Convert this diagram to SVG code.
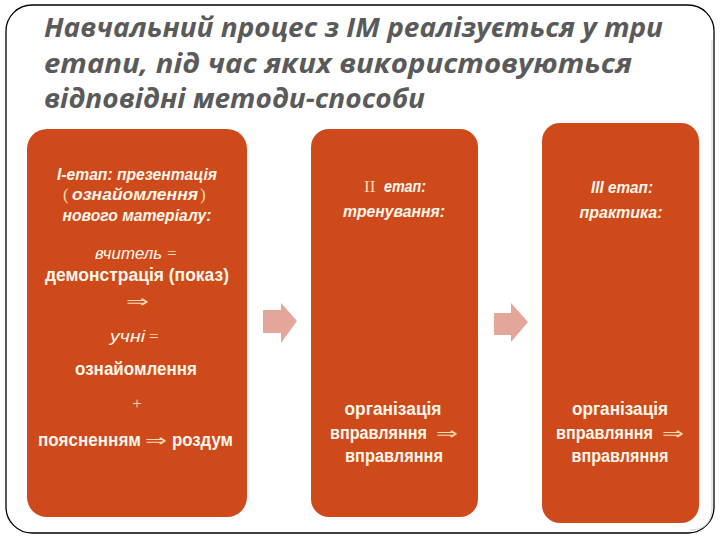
<svg xmlns="http://www.w3.org/2000/svg" width="720" height="540" viewBox="0 0 720 540">
<defs>
<style>
.frame{fill:#fff;stroke:#000;stroke-width:1.3}
.box{fill:#CF4A1B}
.title{font-family:"Open Sans","Liberation Sans",sans-serif;font-style:italic;font-weight:700;font-size:27px;fill:#5a5a5a}
.t{font-family:"Liberation Sans",Arial,sans-serif;fill:#FFF6EA;font-size:17px}
.c{text-anchor:middle}
.hi{font-style:italic;font-weight:bold}
.it{font-style:italic}
.b{font-weight:bold;font-size:18px}
.sym{font-family:"Liberation Serif","DejaVu Serif",serif;fill:#F7D8AE}
.arr{font-family:"DejaVu Sans",sans-serif;fill:#F7D8AE;font-size:17px}
.arrow{fill:#E3A699}
</style>
</defs>
<rect class="frame" x="6" y="5" width="708" height="528" rx="26"/>
<path d="M712 40 V508 Q712 530 690 530" fill="none" stroke="#cfcfcf" stroke-width="1"/>
<g id="title">
<text class="title" x="44" y="37" textLength="619" lengthAdjust="spacingAndGlyphs">Навчальний процес з ІМ реалізується у три</text>
<text class="title" x="44" y="73" textLength="588" lengthAdjust="spacingAndGlyphs">етапи, під час яких використовуються</text>
<text class="title" x="44" y="108" textLength="381" lengthAdjust="spacingAndGlyphs">відповідні методи-способи</text>
</g>
<g id="connectors">
<path class="arrow" d="M263 310 H281 V303 L297 321 L281 343 V333 H263 Z"/>
<path class="arrow" d="M494 313 H511 V303 L528 322 L511 342 V335 H494 Z"/>
</g>
<g id="stage1">
<rect class="box" x="27" y="129" width="220" height="388" rx="20"/>
<text class="t hi c" x="137" y="180" textLength="160" lengthAdjust="spacingAndGlyphs">І-етап: презентація</text>
<text class="t sym" x="63" y="200" font-size="17">(</text>
<text class="t hi" x="72" y="200" textLength="126" lengthAdjust="spacingAndGlyphs">ознайомлення</text>
<text class="t sym" x="200" y="200" font-size="17">)</text>
<text class="t hi c" x="137" y="221" textLength="149" lengthAdjust="spacingAndGlyphs">нового матеріалу:</text>
<text class="t it" x="95" y="259" font-size="16" textLength="67" lengthAdjust="spacingAndGlyphs">вчитель</text>
<text class="t sym" x="167" y="259" font-size="17">=</text>
<text class="t b c" x="137" y="281" textLength="184" lengthAdjust="spacingAndGlyphs">демонстрація (показ)</text>
<text class="t arr" x="126" y="307" textLength="23" lengthAdjust="spacingAndGlyphs">⇒</text>
<text class="t it" x="110" y="342" textLength="35" lengthAdjust="spacingAndGlyphs">учні</text>
<text class="t sym" x="149" y="342" font-size="17">=</text>
<text class="t b c" x="136" y="375" textLength="122" lengthAdjust="spacingAndGlyphs">ознайомлення</text>
<text class="t sym c" x="137" y="409" font-size="20">+</text>
<text class="t b" x="38" y="446" textLength="103" lengthAdjust="spacingAndGlyphs">поясненням</text>
<text class="t arr" x="145" y="446" textLength="22" lengthAdjust="spacingAndGlyphs">⇒</text>
<text class="t b" x="172" y="446" textLength="61" lengthAdjust="spacingAndGlyphs">роздум</text>
</g>
<g id="stage2">
<rect class="box" x="311" y="129" width="167" height="388" rx="18"/>
<text class="t sym" x="364" y="192" font-size="18">ІІ</text>
<text class="t hi" x="384" y="192" textLength="42" lengthAdjust="spacingAndGlyphs">етап:</text>
<text class="t hi c" x="394" y="217" textLength="102" lengthAdjust="spacingAndGlyphs">тренування:</text>
<text class="t b c" x="393" y="415" textLength="97" lengthAdjust="spacingAndGlyphs">організація</text>
<text class="t b" x="330" y="439" textLength="97" lengthAdjust="spacingAndGlyphs">вправляння</text>
<text class="t arr" x="436" y="439" textLength="22" lengthAdjust="spacingAndGlyphs">⇒</text>
<text class="t b c" x="394" y="462" textLength="98" lengthAdjust="spacingAndGlyphs">вправляння</text>
</g>
<g id="stage3">
<rect class="box" x="542" y="123" width="157" height="400" rx="18"/>
<text class="t hi c" x="622" y="193" textLength="62" lengthAdjust="spacingAndGlyphs">ІІІ етап:</text>
<text class="t hi c" x="621" y="218" textLength="83" lengthAdjust="spacingAndGlyphs">практика:</text>
<text class="t b c" x="620" y="415" textLength="96" lengthAdjust="spacingAndGlyphs">організація</text>
<text class="t b" x="556" y="439" textLength="97" lengthAdjust="spacingAndGlyphs">вправляння</text>
<text class="t arr" x="662" y="439" textLength="22" lengthAdjust="spacingAndGlyphs">⇒</text>
<text class="t b c" x="620" y="462" textLength="97" lengthAdjust="spacingAndGlyphs">вправляння</text>
</g>
</svg>
